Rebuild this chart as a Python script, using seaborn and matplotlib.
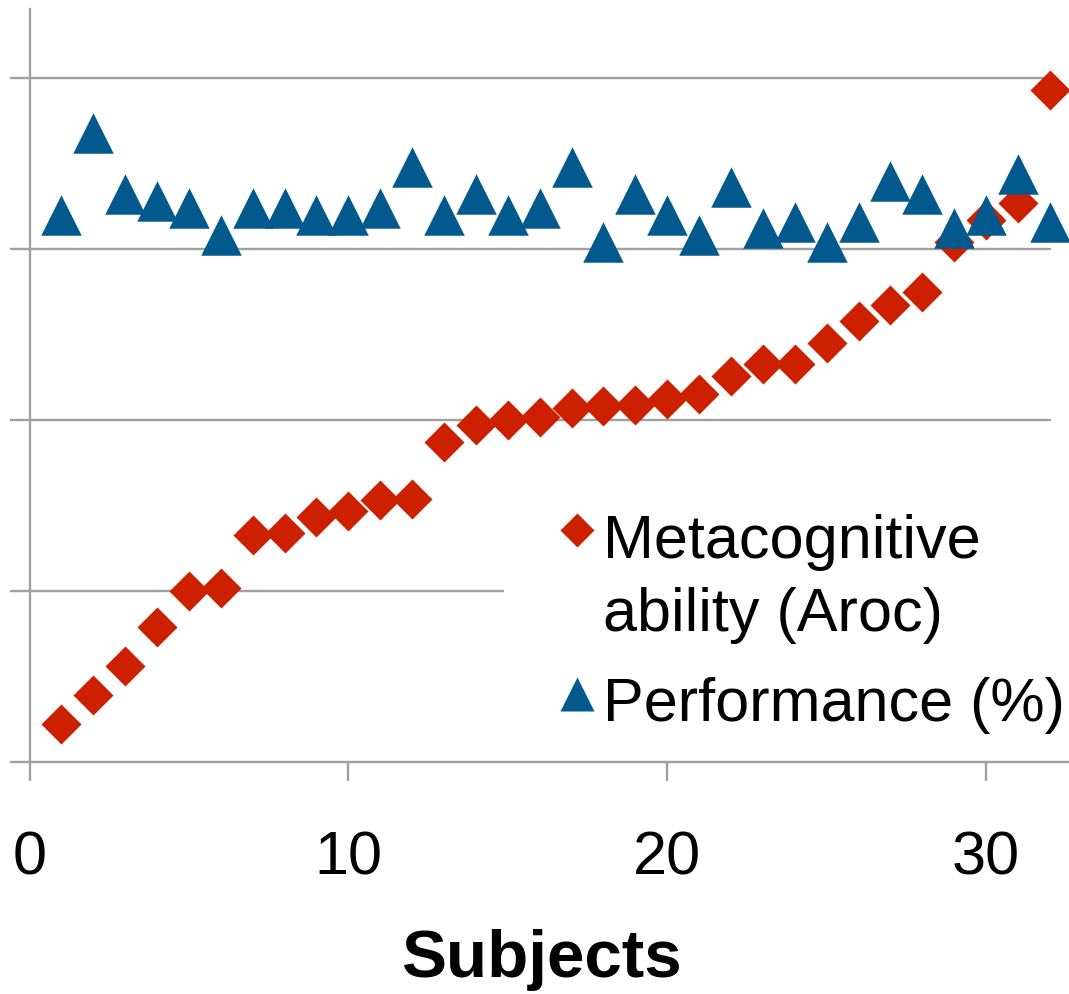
import numpy as np
import pandas as pd
import matplotlib
matplotlib.use("Agg")
import matplotlib.pyplot as plt
from matplotlib.lines import Line2D
from matplotlib.transforms import Affine2D
import seaborn as sns

# Per-subject scores, subjects sorted by metacognitive ability
subjects = list(range(1, 33))
aroc = [0.522, 0.539, 0.556, 0.579, 0.600, 0.602, 0.633, 0.634, 0.643, 0.647,
        0.653, 0.654, 0.687, 0.697, 0.700, 0.702, 0.707, 0.708, 0.709, 0.712,
        0.715, 0.726, 0.733, 0.733, 0.745, 0.758, 0.767, 0.775, 0.804, 0.817,
        0.827, 0.893]
performance_pct = [82.0, 86.8, 83.2, 82.8, 82.4, 80.8, 82.4, 82.4, 82.0, 82.0,
                   82.4, 84.8, 82.0, 83.2, 82.0, 82.4, 84.8, 80.4, 83.2, 82.0,
                   80.8, 83.6, 81.2, 81.6, 80.4, 81.6, 84.0, 83.2, 81.2, 82.0,
                   84.4, 81.6]
x_ticks = [0, 10, 20, 30]
grid_levels = [0.6, 0.7, 0.8, 0.9]
series_labels = ["Metacognitive\nability (Aroc)", "Performance (%)"]

sns.set_style("white")
plt.rcParams["font.family"] = ["Liberation Sans", "DejaVu Sans"]

RED = "#CC2000"
BLUE = "#02598E"
GRAY = "#A0A0A0"
LW = 1.7

W, H = 1069, 995
fig = plt.figure(figsize=(W / 100, H / 100), dpi=100)
ax = fig.add_axes([29.5 / W, (H - 763) / H, (W - 29.5) / W, 753 / H])
ax.set_axisbelow(False)

df = pd.DataFrame({
    "subject": subjects,
    "aroc": aroc,
    "perf": np.array(performance_pct) / 100.0,
})

sns.scatterplot(data=df, x="subject", y="aroc", marker="D", s=415, color=RED,
                linewidth=0, ax=ax, zorder=3, clip_on=False, legend=False)
sns.scatterplot(data=df, x="subject", y="perf", marker="^", s=850, color=BLUE,
                linewidth=0, ax=ax, zorder=4, clip_on=False, legend=False)

XMAX = 32.6
ax.set_xlim(0, XMAX)
ax.set_ylim(0.5, 0.5 + 753 / 1710)
ax.set_xticks(x_ticks)
ax.set_yticks([0.5] + grid_levels)
ax.set_yticklabels([])
ax.set_ylabel("")

for y in grid_levels:
    ax.axhline(y, xmin=0, xmax=32 / XMAX, color=GRAY, lw=LW, zorder=1)

ax.tick_params(axis="x", bottom=True, direction="out", length=13.7, width=LW,
               color=GRAY, labelsize=44, pad=35, labelcolor="black")
ax.tick_params(axis="y", left=True, direction="out", length=14.4, width=LW,
               color=GRAY, labelleft=False)
for side in ["top", "right"]:
    ax.spines[side].set_visible(False)
for side in ["left", "bottom"]:
    ax.spines[side].set_color(GRAY)
    ax.spines[side].set_linewidth(LW)

ax.set_xlabel("Subjects", fontsize=48.5, fontweight="bold", color="black")
ax.xaxis.set_label_coords(0.492, -0.221)

handles = [
    Line2D([], [], ls="none", marker="D", ms=17.3, mfc=RED, mec="none"),
    Line2D([], [], ls="none", marker="^", ms=24.5, mfc=BLUE, mec="none"),
]
leg = ax.legend(handles, series_labels, loc="upper left",
                bbox_to_anchor=(0.4565, 0.396), borderaxespad=0,
                frameon=True, fancybox=False, framealpha=1,
                facecolor="white", edgecolor="none", fontsize=44,
                labelcolor="black",
                handlelength=0.8, handletextpad=0.02, borderpad=0.8,
                labelspacing=0.54)
leg.set_zorder(2.2)
leg.get_texts()[0].set_linespacing(1.36)

# raise each marker so it sits beside the first line of its label
for h, dy in zip(leg.legend_handles, [35, 3]):
    h.set_transform(Affine2D().translate(0, dy) + h.get_transform())

fig.savefig("out.png", dpi=100, facecolor="white")
